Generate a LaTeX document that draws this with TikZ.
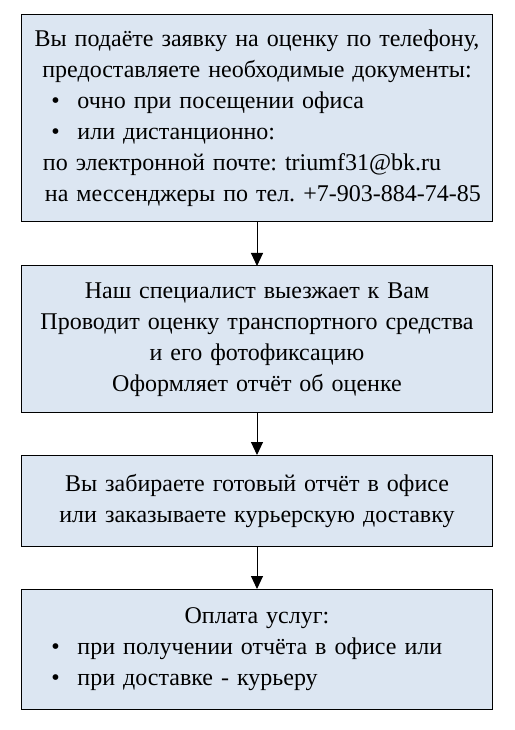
\documentclass[tikz,border=0pt]{standalone}
\usepackage{fontspec}
\setmainfont{Liberation Serif}
\usetikzlibrary{positioning,arrows.meta}
\definecolor{boxblue}{HTML}{DCE6F2}
\frenchspacing
\newcommand\itm[1]{\makebox[\linewidth][l]{\hspace*{30bp}\makebox[26bp][l]{\textbullet}#1}}
\newcommand\lft[2]{\makebox[\linewidth][l]{\hspace*{#1}#2}}

\begin{document}
\begin{tikzpicture}
[x=1bp,y=1bp,
 every node/.style={font=\fontsize{24bp}{31bp}\selectfont},
 stage/.style={rectangle,draw=black,fill=boxblue,line width=1bp,text width=471bp,inner sep=0bp,outer sep=0bp,align=center},
 link/.style={-{Triangle[length=13bp,width=12bp]},line width=1bp}]
\useasboundingbox (0,0) rectangle (515,730);

\node[stage,minimum height=207bp,anchor=north] (apply) at (257,715)
  {Вы подаёте заявку на оценку по телефону,\\
   предоставляете необходимые документы:\\
   \itm{очно при посещении офиса}\\
   \itm{или дистанционно:}\\
   \lft{21.5bp}{по электронной почте: triumf31@bk.ru}\\
   \lft{23.5bp}{на мессенджеры по тел. +7-903-884-74-85}};
\node[stage,minimum height=147bp] (visit) [below=44bp of apply]
  {Наш специалист выезжает к Вам\\
   Проводит оценку транспортного средства\\
   и его фотофиксацию\\
   Оформляет отчёт об оценке};
\node[stage,minimum height=91bp] (pickup) [below=42bp of visit]
  {Вы забираете готовый отчёт в офисе\\
   или заказываете курьерскую доставку};
\node[stage,minimum height=120bp] (payment) [below=43bp of pickup]
  {Оплата услуг:\\
   \itm{при получении отчёта в офисе или}\\
   \itm{при доставке - курьеру}};

\draw[link] (apply) -- (visit);
\draw[link] (visit) -- (pickup);
\draw[link] (pickup) -- (payment);
\end{tikzpicture}
\end{document}
